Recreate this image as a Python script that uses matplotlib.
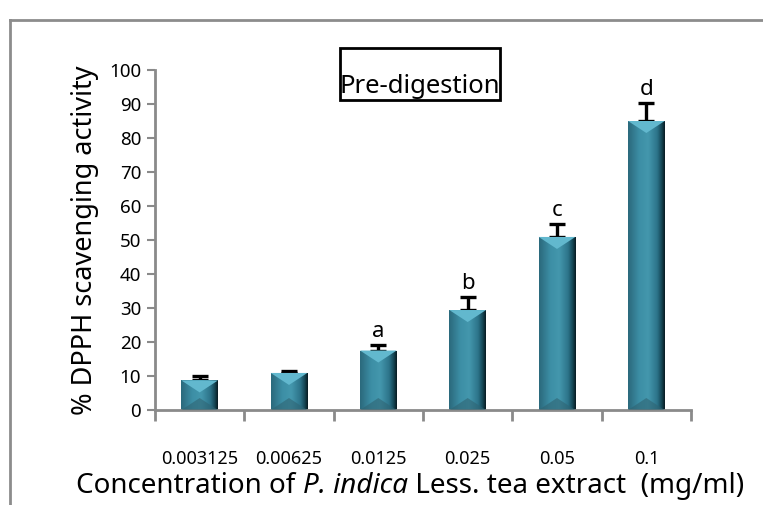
"""Pre-digestion DPPH scavenging activity bar chart."""

import numpy as np
import matplotlib
matplotlib.use("Agg")
import matplotlib.pyplot as plt
from matplotlib.colors import LinearSegmentedColormap
from matplotlib.patches import Polygon, Rectangle
from matplotlib.lines import Line2D
from matplotlib.offsetbox import AnchoredOffsetbox, HPacker, TextArea

CONCENTRATIONS = ["0.003125", "0.00625", "0.0125", "0.025", "0.05", "0.1"]
SCAVENGING = [8.7, 10.9, 17.5, 29.4, 50.9, 85.0]
ERR_UP = [1.2, 0.7, 1.6, 3.8, 3.8, 5.3]
LETTERS = ["", "", "a", "b", "c", "d"]

FONT = "Noto Sans"
AXIS_GREY = "#8a8a8a"

plt.rcParams["font.family"] = [FONT, "DejaVu Sans"]

W, H, DPI = 763, 505, 100
fig = plt.figure(figsize=(W / DPI, H / DPI), dpi=DPI)
ax = fig.add_axes([155 / W, 1 - 410 / H, (691 - 155) / W, (410 - 70) / H])

x = np.arange(len(CONCENTRATIONS))
bw = 0.41
bars = ax.bar(x, SCAVENGING, bw, color="#3a8ca3", zorder=2)
ax.errorbar(x, SCAVENGING, yerr=[np.zeros(len(x)), ERR_UP], fmt="none",
            ecolor="black", elinewidth=2.4, capsize=6, capthick=2.4, zorder=1)

ax.set_xlim(-0.5, len(x) - 0.5)
ax.set_ylim(0, 100)

# horizontal shading across each bar
shade = LinearSegmentedColormap.from_list(
    "bar", [(0, "#2b697c"), (0.3, "#3c8ea5"), (0.55, "#4497ad"),
            (0.8, "#2c7389"), (0.92, "#154654"), (1, "#081c23")])
grad = np.linspace(0, 1, 64).reshape(1, -1)
ppy = ax.get_window_extent().height / 100.0          # pixels per y unit
for b, v in zip(bars, SCAVENGING):
    x0 = b.get_x()
    x1 = x0 + b.get_width()
    im = ax.imshow(grad, cmap=shade, extent=(x0, x1, 0, v), aspect="auto",
                   zorder=2, interpolation="bicubic")
    im.set_clip_path(b)
    xc = (x0 + x1) / 2
    d = min(12.0, v * ppy / 2) / ppy
    ax.add_patch(Polygon([(x0, v), (x1, v), (xc, v - d)], closed=True,
                         facecolor="#62b8ce", edgecolor="none", zorder=3))
    ax.add_patch(Polygon([(x0, 0), (x1, 0), (xc, d)], closed=True,
                         facecolor="#2f6473", edgecolor="none", zorder=3,
                         alpha=0.6))

for xi, v, e, lab in zip(x, SCAVENGING, ERR_UP, LETTERS):
    if lab:
        ax.text(xi, v + e + 1.0, lab, ha="center", va="bottom", fontsize=16)

ax.set_yticks(np.arange(0, 101, 10))
ax.set_xticks(x)
ax.set_xticklabels(CONCENTRATIONS, fontsize=13)
ax.set_xticks(np.arange(-0.5, len(x)), minor=True)
ax.tick_params(axis="x", which="major", length=0, pad=29)
ax.tick_params(axis="x", which="minor", length=8, width=2, color=AXIS_GREY,
               direction="out")
ax.tick_params(axis="y", length=6, width=1.5, color=AXIS_GREY, labelsize=13.5,
               pad=4)
for s in ("top", "right"):
    ax.spines[s].set_visible(False)
for s in ("left", "bottom"):
    ax.spines[s].set_color(AXIS_GREY)
    ax.spines[s].set_linewidth(2)

ax.set_ylabel("% DPPH scavenging activity", fontsize=19.5, labelpad=7)

# x label with the italic species name, packed piece by piece
lab_size = 20
parts = [("Concentration of\u00a0", "normal"), ("P. indica", "italic"),
         ("\u00a0Less. tea extract \u00a0(mg/ml)", "normal")]
boxes = [TextArea(t, textprops=dict(fontsize=lab_size, style=st))
         for t, st in parts]
pack = HPacker(children=boxes, pad=0, sep=0, align="baseline")
anch = AnchoredOffsetbox(loc="center", child=pack, frameon=False,
                         bbox_to_anchor=(410 / W, 1 - 486 / H),
                         bbox_transform=fig.transFigure, borderpad=0, pad=0)
fig.add_artist(anch)

# outer frame (continues off the right and bottom edges)
fig.add_artist(Line2D([10 / W, 10 / W], [0, 1 - 20 / H], color="#8c8c8c",
                      lw=2, transform=fig.transFigure))
fig.add_artist(Line2D([10 / W, 1], [1 - 20 / H, 1 - 20 / H], color="#8c8c8c",
                      lw=2, transform=fig.transFigure))

# title box
fig.add_artist(Rectangle((340 / W, 1 - 100 / H), 160 / W, 52 / H, fill=False,
                         edgecolor="black", lw=2, transform=fig.transFigure))
fig.text(420 / W, 1 - 87 / H, "Pre-digestion", ha="center", va="center",
         fontsize=18.5)

fig.savefig("out.png", dpi=DPI)
